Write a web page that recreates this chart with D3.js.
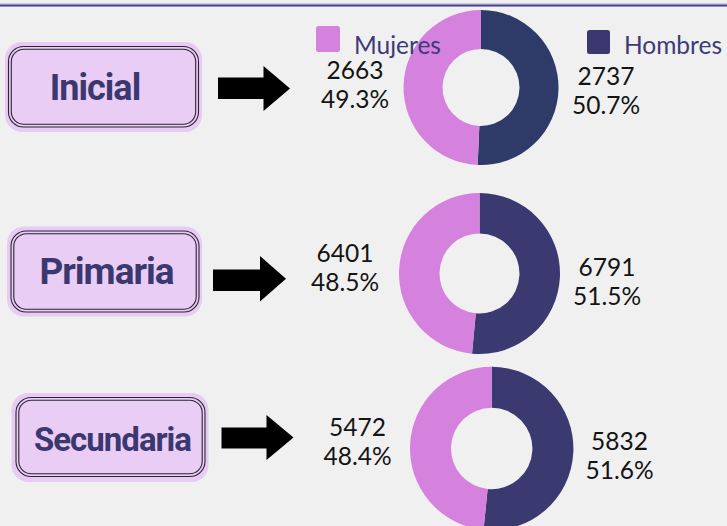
<!DOCTYPE html>
<html><head><meta charset="utf-8">
<script src="https://cdn.jsdelivr.net/npm/d3@7"></script>
<style>
html,body{margin:0;padding:0;background:#f0f0f0;}
svg{display:block;}
</style></head>
<body>
<svg id="c" width="727" height="526"></svg>
<script>
// ---- data ----
const categories = ["Inicial", "Primaria", "Secundaria"];
const mujeres = [2663, 6401, 5472];
const hombres = [2737, 6791, 5832];
const seriesNames = ["Mujeres", "Hombres"];

// ---- layout (positions / styles) ----
const W = 727, H = 526;
const colorM = "#d581de";
const colorH = ["#2e3a67", "#3a3970", "#3a3970"];
const rows = [
  {cx:481, cy:87.5, ro:77.5, ri:38.5,
   glow:[5,42,197,90], border:[8.5,46.5,190,80.5], tx:95, ty:100, fs:36,
   arrow:{x0:218,x1:263.5,y0:77.5,y1:99,tx:290,hy0:66,hy1:111},
   lm:{x:355, y:79}, lh:{x:606, y:85}},
  {cx:479.5, cy:273.5, ro:80.5, ri:40,
   glow:[7,226.5,195,90], border:[11,231,188,81], tx:106.5, ty:284, fs:37,
   arrow:{x0:213,x1:260,y0:269.5,y1:291,tx:286,hy0:256,hy1:301.5},
   lm:{x:345, y:262}, lh:{x:607, y:276}},
  {cx:491.7, cy:448.5, ro:81.7, ri:40.7,
   glow:[11.5,393,197,89], border:[16,397.5,189,79], tx:112.5, ty:451, fs:33,
   arrow:{x0:221.5,x1:266.5,y0:427.5,y1:448.5,tx:293.5,hy0:415,hy1:460},
   lm:{x:357.5, y:436}, lh:{x:619.5, y:449.5}}
];

const svg = d3.select("#c");
svg.append("rect").attr("width", W).attr("height", H).attr("fill", "#f0f0f0");

// top rule
svg.append("line").attr("x1",0).attr("x2",W).attr("y1",5.5).attr("y2",5.5)
  .attr("stroke","#3f3a92").attr("stroke-width",2.2);
svg.append("line").attr("x1",0).attr("x2",W).attr("y1",3.6).attr("y2",3.6)
  .attr("stroke","#b9b6d6").attr("stroke-width",0.8);

const pie = d3.pie().sort(null).value(d => d.value).startAngle(0).endAngle(2*Math.PI);
const fmtPct = d3.format(".1f");

categories.forEach((cat, i) => {
  const L = rows[i];
  const g = svg.append("g");

  // category box
  const [gx,gy,gw,gh] = L.glow;
  g.append("rect").attr("x",gx).attr("y",gy).attr("width",gw).attr("height",gh)
    .attr("rx",17).attr("fill","#e8cbf4");
  const [bx,by,bw,bh] = L.border;
  g.append("rect").attr("x",bx).attr("y",by).attr("width",bw).attr("height",bh)
    .attr("rx",15).attr("fill","#e9cdf5").attr("stroke","#2b2533").attr("stroke-width",1.1);
  g.append("rect").attr("x",bx+2.8).attr("y",by+2.8).attr("width",bw-5.6).attr("height",bh-5.6)
    .attr("rx",12.5).attr("fill","none").attr("stroke","#2b2533").attr("stroke-width",1.1);
  g.append("text").attr("x",L.tx).attr("y",L.ty).attr("text-anchor","middle")
    .attr("font-family","Roboto, 'Noto Sans', sans-serif").attr("font-weight",700)
    .attr("font-size",L.fs).attr("letter-spacing","-1px").attr("fill","#3b3870")
    .text(cat);

  // arrow
  const a = L.arrow;
  const my = (a.hy0 + a.hy1) / 2;
  g.append("path").attr("fill","#000")
    .attr("d", `M${a.x0},${a.y0}L${a.x1},${a.y0}L${a.x1},${a.hy0}L${a.tx},${my}L${a.x1},${a.hy1}L${a.x1},${a.y1}L${a.x0},${a.y1}Z`);

  // donut
  const total = mujeres[i] + hombres[i];
  const data = [{k:"Hombres", value:hombres[i]}, {k:"Mujeres", value:mujeres[i]}];
  const arc = d3.arc().innerRadius(L.ri).outerRadius(L.ro);
  g.append("g").attr("transform",`translate(${L.cx},${L.cy})`)
    .selectAll("path").data(pie(data)).join("path")
    .attr("d", arc)
    .attr("fill", d => d.data.k === "Mujeres" ? colorM : colorH[i]);

  // value labels
  const lab = (p, val) => {
    const lines = [String(val), fmtPct(val/total*100) + "%"];
    lines.forEach((s, j) => {
      g.append("text").attr("text-anchor","middle")
        .attr("x", p.x).attr("y", p.y + j*29)
        .attr("font-family","Lato, 'Noto Sans', sans-serif").attr("font-size",24.5)
        .attr("fill","#141414").text(s);
    });
  };
  lab(L.lm, mujeres[i]);
  lab(L.lh, hombres[i]);
});

// legend (on top)
const legend = [
  {name: seriesNames[0], color: colorM, sq:[316,26,24,26], tx:354},
  {name: seriesNames[1], color: "#3b3870", sq:[587,30,23,24], tx:624}
];
legend.forEach(l => {
  svg.append("rect").attr("x",l.sq[0]).attr("y",l.sq[1]).attr("width",l.sq[2]).attr("height",l.sq[3])
    .attr("rx",2.5).attr("fill",l.color);
  svg.append("text").attr("x",l.tx).attr("y",53.5)
    .attr("font-family","Lato, 'Noto Sans', sans-serif").attr("font-size",24.5)
    .attr("fill","#3d3a7a").text(l.name);
});
</script>
</body></html>
